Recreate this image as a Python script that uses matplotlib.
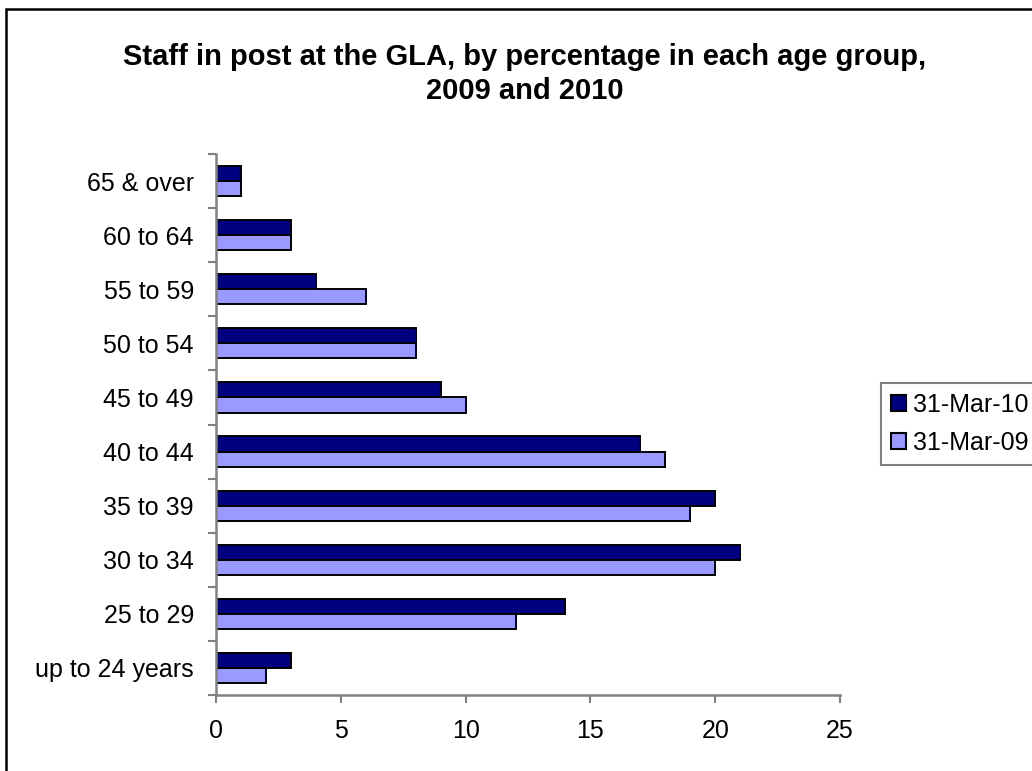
import numpy as np
import matplotlib.pyplot as plt
from matplotlib.patches import Rectangle

plt.rcParams['font.family'] = ['Liberation Sans', 'DejaVu Sans']

# age groups, bottom to top as drawn
groups = ["up to 24 years", "25 to 29", "30 to 34", "35 to 39", "40 to 44",
          "45 to 49", "50 to 54", "55 to 59", "60 to 64", "65 & over"]
mar10 = [3, 14, 21, 20, 17, 9, 8, 4, 3, 1]
mar09 = [2, 12, 20, 19, 18, 10, 8, 6, 3, 1]
series_names = ["31-Mar-10", "31-Mar-09"]
xticks = [0, 5, 10, 15, 20, 25]

fig = plt.figure(figsize=(10.32, 7.71), dpi=100)
ax = fig.add_axes([216/1032, 1 - 695/771, 624/1032, (695 - 154)/771])

y = np.arange(len(groups))
h = 0.28
ax.barh(y + h/2, mar10, height=h, color="#000080", edgecolor="black", lw=1.4, label=series_names[0])
ax.barh(y - h/2, mar09, height=h, color="#9999FF", edgecolor="black", lw=1.4, label=series_names[1])

ax.set_xlim(0, 25)
ax.set_ylim(-0.5, len(groups) - 0.5)
ax.set_xticks(xticks)
# Excel style: tick marks between categories, labels in the middle
ax.set_yticks(np.arange(len(groups) + 1) - 0.5)
ax.set_yticklabels([])
ax.set_yticks(y, minor=True)
ax.set_yticklabels(groups, minor=True)
ax.tick_params(axis="y", which="major", length=6, width=1.5, color="#808080", direction="out")
ax.tick_params(axis="y", which="minor", length=0, pad=16, labelsize=18)
ax.tick_params(axis="x", length=6, width=1.5, color="#808080", direction="out", pad=11, labelsize=18)

for s in ["top", "right"]:
    ax.spines[s].set_visible(False)
for s in ["left", "bottom"]:
    ax.spines[s].set_color("#808080")
    ax.spines[s].set_linewidth(1.8)

fig.text(525/1032, 1 - 74/771, "Staff in post at the GLA, by percentage in each age group,\n2009 and 2010",
         ha="center", va="center", fontsize=21, fontweight="bold", linespacing=1.3)

leg = fig.legend(loc="upper left", bbox_to_anchor=(881/1032, 1 - 383/771), fontsize=18,
                 handlelength=0.6, handleheight=0.6, handletextpad=0.3, borderpad=0.4,
                 labelspacing=0.55, fancybox=False, framealpha=1, borderaxespad=0)
leg.get_frame().set_edgecolor("#808080")
leg.get_frame().set_linewidth(1.5)
for p in leg.legend_handles:
    p.set_linewidth(1.5)

# chart area border (cut off at right and bottom in the original)
fig.add_artist(Rectangle((6/1032, -0.1), 1.2, 1.1 - 9/771, transform=fig.transFigure,
                         fill=False, edgecolor="black", lw=1.8))

fig.savefig("out.png", dpi=100)
